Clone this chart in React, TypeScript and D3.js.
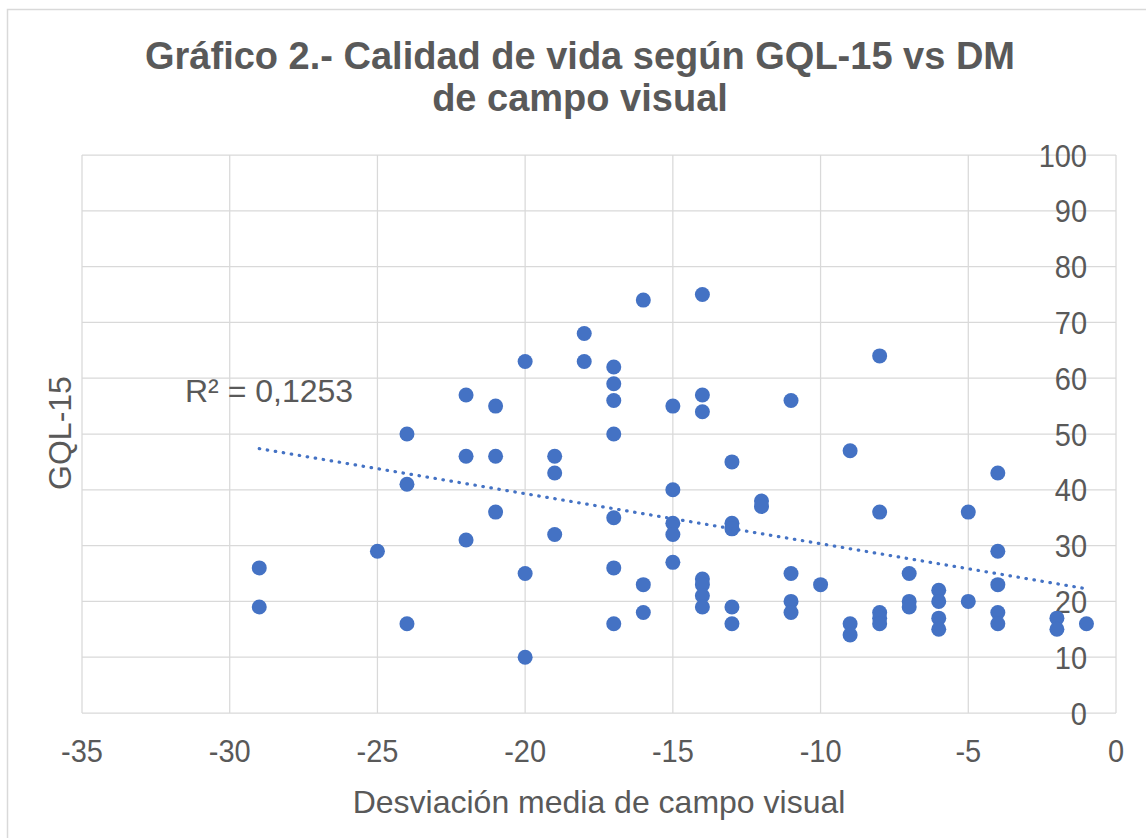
import React from 'react'
import * as d3 from 'd3'

// desviación media (x) y GQL-15 (y)
const dmValues = [
  -29, -29,
  -25,
  -24, -24, -24,
  -22, -22, -22,
  -21, -21, -21,
  -20, -20, -20,
  -19, -19, -19,
  -18, -18,
  -17, -17, -17, -17, -17, -17, -17,
  -16, -16, -16,
  -15, -15, -15, -15, -15,
  -14, -14, -14, -14, -14, -14, -14,
  -13, -13, -13, -13, -13,
  -12, -12,
  -11, -11, -11, -11,
  -10,
  -9, -9, -9,
  -8, -8, -8, -8, -8,
  -7, -7, -7,
  -6, -6, -6, -6,
  -5, -5,
  -4, -4, -4, -4, -4,
  -2, -2,
  -1,
]
const gqlValues = [
  26, 19,
  29,
  50, 41, 16,
  57, 46, 31,
  55, 46, 36,
  63, 25, 10,
  46, 43, 32,
  68, 63,
  62, 59, 56, 50, 35, 26, 16,
  74, 23, 18,
  55, 40, 34, 32, 27,
  75, 57, 54, 24, 23, 21, 19,
  45, 34, 33, 19, 16,
  38, 37,
  56, 25, 20, 18,
  23,
  47, 16, 14,
  64, 36, 18, 17, 16,
  25, 20, 19,
  22, 20, 17, 15,
  36, 20,
  43, 29, 23, 18, 16,
  17, 15,
  16,
]
const xTicks = [-35, -30, -25, -20, -15, -10, -5, 0]
const yTicks = [0, 10, 20, 30, 40, 50, 60, 70, 80, 90, 100]
const titleLines = ['Gráfico 2.- Calidad de vida según GQL-15 vs DM', 'de campo visual']
const xTitle = 'Desviación media de campo visual'
const yTitle = 'GQL-15'
const r2Label = 'R² = 0,1253'

const W = 1146
const H = 838
const plot = {left: 82, right: 1116, top: 155, bottom: 713}
const textColor = '#595959'
const gridColor = '#D9D9D9'
const dotColor = '#4472C4'

export default function App() {
  const x = d3.scaleLinear().domain([-35, 0]).range([plot.left, plot.right])
  const y = d3.scaleLinear().domain([0, 100]).range([plot.bottom, plot.top])

  // línea de tendencia lineal (mínimos cuadrados)
  const mx = d3.mean(dmValues) as number
  const my = d3.mean(gqlValues) as number
  let sxy = 0, sxx = 0
  dmValues.forEach((v, i) => {
    sxy += (v - mx) * (gqlValues[i] - my)
    sxx += (v - mx) * (v - mx)
  })
  const slope = sxy / sxx
  const intercept = my - slope * mx
  const [x0, x1] = d3.extent(dmValues) as [number, number]
  const trend = d3.line<number>()
    .x(d => x(d))
    .y(d => y(intercept + slope * d))([x0, x1])

  const font = 'Arial, "Liberation Sans", sans-serif'

  return (
    <svg width={W} height={H} style={{position: 'absolute', left: 0, top: 0, fontFamily: font}}>
      <rect x={0} y={0} width={W} height={H} fill="#fff"/>
      <rect x={7.5} y={9.5} width={W + 20} height={H + 20} fill="none" stroke={gridColor} strokeWidth={1.5}/>

      {titleLines.map((t, i) => (
        <text key={i} x={580} y={69 + i * 42} textAnchor="middle"
          fontSize={38} fontWeight="bold" fill={textColor}>{t}</text>
      ))}

      {xTicks.map(t => (
        <line key={'vx' + t} x1={x(t)} x2={x(t)} y1={plot.top} y2={plot.bottom} stroke={gridColor} strokeWidth={1.25}/>
      ))}
      {yTicks.map(t => (
        <line key={'hy' + t} x1={plot.left} x2={plot.right} y1={y(t)} y2={y(t)} stroke={gridColor} strokeWidth={1.25}/>
      ))}

      {xTicks.map(t => (
        <text key={'tx' + t} transform={`translate(${x(t)},761.5) scale(1,1.1)`} textAnchor="middle"
          fontSize={29} fill={textColor}>{t}</text>
      ))}
      {yTicks.map(t => (
        <text key={'ty' + t} transform={`translate(1087,${y(t) + 11.5}) scale(1,1.1)`} textAnchor="end"
          fontSize={29} fill={textColor}>{t}</text>
      ))}

      {dmValues.map((v, i) => (
        <circle key={'p' + i} cx={x(v)} cy={y(gqlValues[i])} r={7.5} fill={dotColor}/>
      ))}

      <path d={trend ?? ''} fill="none" stroke={dotColor} strokeWidth={3.2} strokeLinecap="round" strokeDasharray="0.5 7.6"/>

      <text x={185} y={401.5} fontSize={32} fill={textColor}>{r2Label}</text>

      <text x={(plot.left + plot.right) / 2} y={813} textAnchor="middle" fontSize={32} fill={textColor}>{xTitle}</text>
      <text transform={`translate(71,433) rotate(-90)`} textAnchor="middle" fontSize={32} fill={textColor}>{yTitle}</text>
    </svg>
  )
}
